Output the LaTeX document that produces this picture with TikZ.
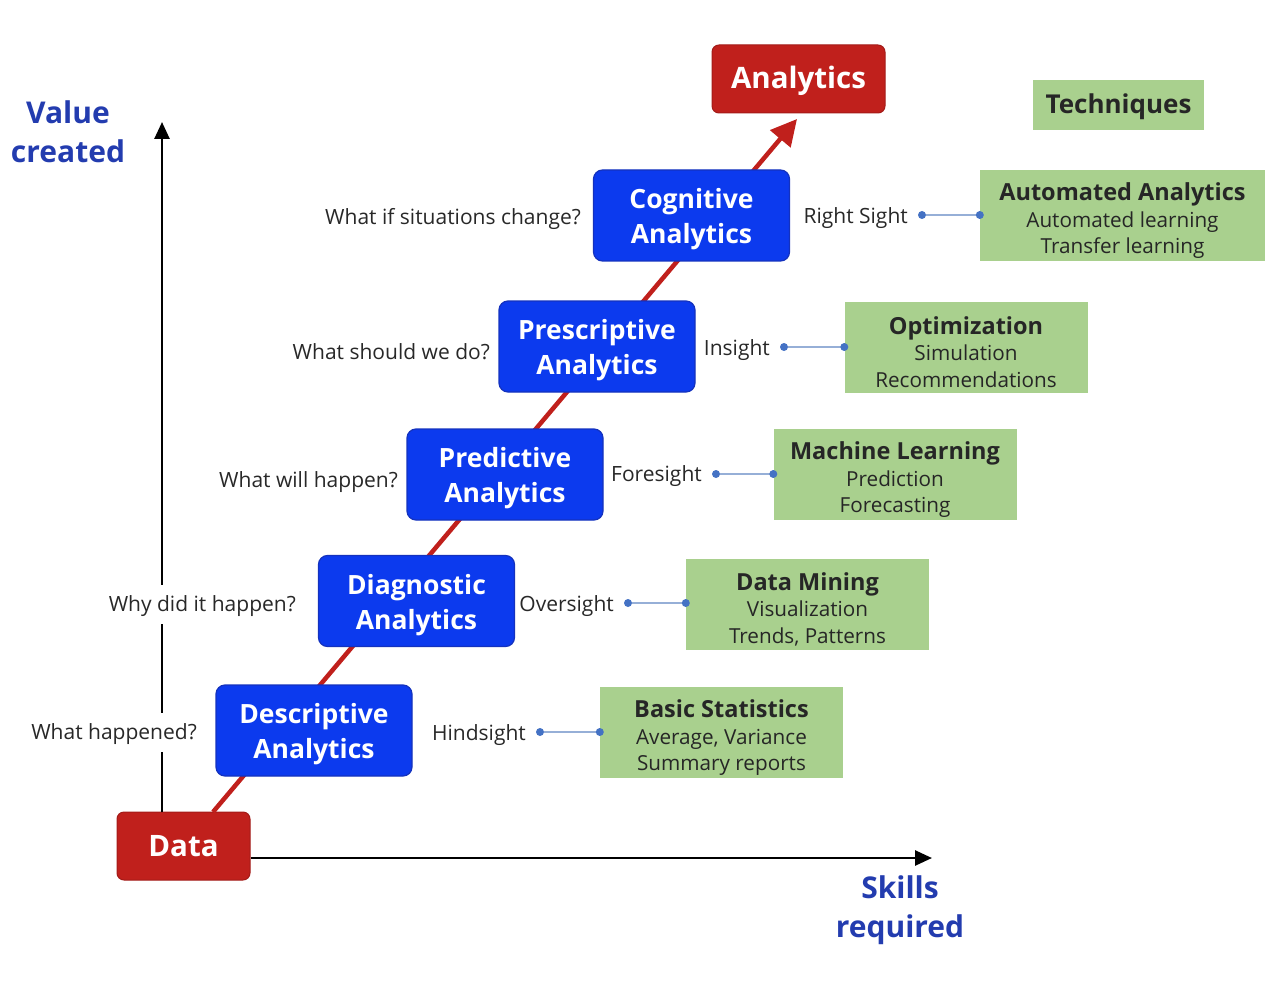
\documentclass[tikz,border=0pt]{standalone}
\usepackage{fontspec}
\setmainfont{Open Sans}
\usetikzlibrary{arrows.meta}
\definecolor{myblue}{RGB}{12,58,238}
\definecolor{myblueb}{RGB}{20,50,190}
\definecolor{myred}{RGB}{192,32,28}
\definecolor{mygreen}{RGB}{169,208,142}
\definecolor{axislbl}{RGB}{35,60,175}
\definecolor{dotc}{RGB}{68,114,196}
\definecolor{linkc}{RGB}{150,175,215}
\definecolor{txt}{RGB}{40,40,40}
\newcommand\gttl{\bfseries\fontsize{23.5}{27}\selectfont\rule{0pt}{28pt}}
\newcommand\bstrut{\rule{0pt}{28pt}}
\begin{document}
\begin{tikzpicture}[x=1pt,y=-1pt,
  bluebox/.style={draw=myblueb,line width=1.2pt,fill=myblue,rounded corners=9pt,minimum width=196pt,minimum height=91pt,inner sep=0pt,text=white,align=center,font=\bfseries\fontsize{26.5}{35}\selectfont},
  redbox/.style={draw=myred!85!black,line width=1pt,fill=myred,rounded corners=7pt,inner sep=0pt,text=white,text height=20pt,text depth=0pt,font=\bfseries\fontsize{29.5}{34}\selectfont},
  greenbox/.style={fill=mygreen,minimum width=243pt,minimum height=91pt,inner sep=0pt,align=center,text=black!85,font=\fontsize{20.7}{26.5}\selectfont},
  question/.style={anchor=east,text=txt,inner sep=3pt,text height=15pt,text depth=0pt,font=\fontsize{21}{25}\selectfont},
  gapq/.style={fill=white,inner ysep=12pt},
  sight/.style={anchor=east,text=txt,inner sep=2pt,text height=15pt,text depth=0pt,font=\fontsize{21}{25}\selectfont},
  axislabel/.style={text=axislbl,align=center,font=\bfseries\fontsize{30}{39}\selectfont},
  dotn/.style={circle,fill=dotc,minimum size=8pt,inner sep=0pt},
  link/.style={draw=linkc,line width=1.6pt},
  axis/.style={draw=black,line width=2.6pt,-{Triangle[length=17pt,width=15pt]}}
]
\useasboundingbox (0,0) rectangle (1284,992);

% red boxes
\node[redbox,minimum width=133pt,minimum height=68pt] (data) at (183.5,846) {Data};
\node[redbox,minimum width=173pt,minimum height=68pt] (analytics) at (798.5,79) {Analytics};

% axes
\coordinate (vtop) at (162,122);
\coordinate (hend) at (932,858);
\draw[axis] (data.north -| vtop) -- (vtop);
\draw[axis] (data.east |- hend) -- (hend);

% diagonal red arrow
\coordinate (rs) at (213,812);
\coordinate (re) at (797,119);
\draw[myred,line width=4.5pt,-{Triangle[length=26pt,width=26pt]}] (rs) -- (re);

% blue boxes
\node[bluebox] (desc) at (314,730.5) {\bstrut Descriptive\\Analytics};
\node[bluebox] (diag) at (416.5,601) {\bstrut Diagnostic\\Analytics};
\node[bluebox] (pred) at (505,474.5) {\bstrut Predictive\\Analytics};
\node[bluebox] (presc) at (597,346.5) {\bstrut Prescriptive\\Analytics};
\node[bluebox] (cogn) at (691.5,215.5) {\bstrut Cognitive\\Analytics};

% questions
\node[question,gapq] (q1) at (200,732) {What happened?};
\node[question,gapq] (q2) at (299,604) {Why did it happen?};
\node[question] (q3) at (401,480) {What will happen?};
\node[question] (q4) at (493,352) {What should we do?};
\node[question] (q5) at (584,217) {What if situations change?};

% axis labels
\node[axislabel] (vlab) at (68,132) {Value\\created};
\node[axislabel] (hlab) at (900,910) {Skills\\required};

% green boxes
\node[greenbox] (g1) at (721.5,732.5) {{\gttl Basic Statistics}\\Average, Variance\\Summary reports};
\node[greenbox] (g2) at (807.5,604) {{\gttl Data Mining}\\Visualization\\Trends, Patterns};
\node[greenbox] (g3) at (895,474.5) {{\gttl Machine Learning}\\Prediction\\Forecasting};
\node[greenbox] (g4) at (966,347) {{\gttl Optimization}\\Simulation\\Recommendations};
\node[greenbox,minimum width=285pt] (g5) at (1122.5,215.5) {{\gttl Automated Analytics}\\Automated learning\\Transfer learning};
\node[fill=mygreen,minimum width=171pt,minimum height=50pt,inner sep=0pt,text=black!85,text height=18pt,text depth=0pt,font=\bfseries\fontsize{26}{30}\selectfont] (tech) at (1118.5,105) {Techniques};

% sight labels and links
\node[sight] (s1) at (528,733) {Hindsight};
\node[sight] (s2) at (616,604) {Oversight};
\node[sight] (s3) at (704,474) {Foresight};
\node[sight] (s4) at (772,348) {Insight};
\node[sight] (s5) at (910,216) {Right Sight};

\node[dotn] (d1) at (540,732) {};
\node[dotn] (d2) at (628,603) {};
\node[dotn] (d3) at (716,474) {};
\node[dotn] (d4) at (784,347) {};
\node[dotn] (d5) at (922,215) {};

\foreach \d/\g in {d1/g1,d2/g2,d3/g3,d4/g4,d5/g5}{
  \draw[link] (\d) -- (\d -| \g.west);
  \node[dotn] at (\d -| \g.west) {};
}
\end{tikzpicture}
\end{document}
